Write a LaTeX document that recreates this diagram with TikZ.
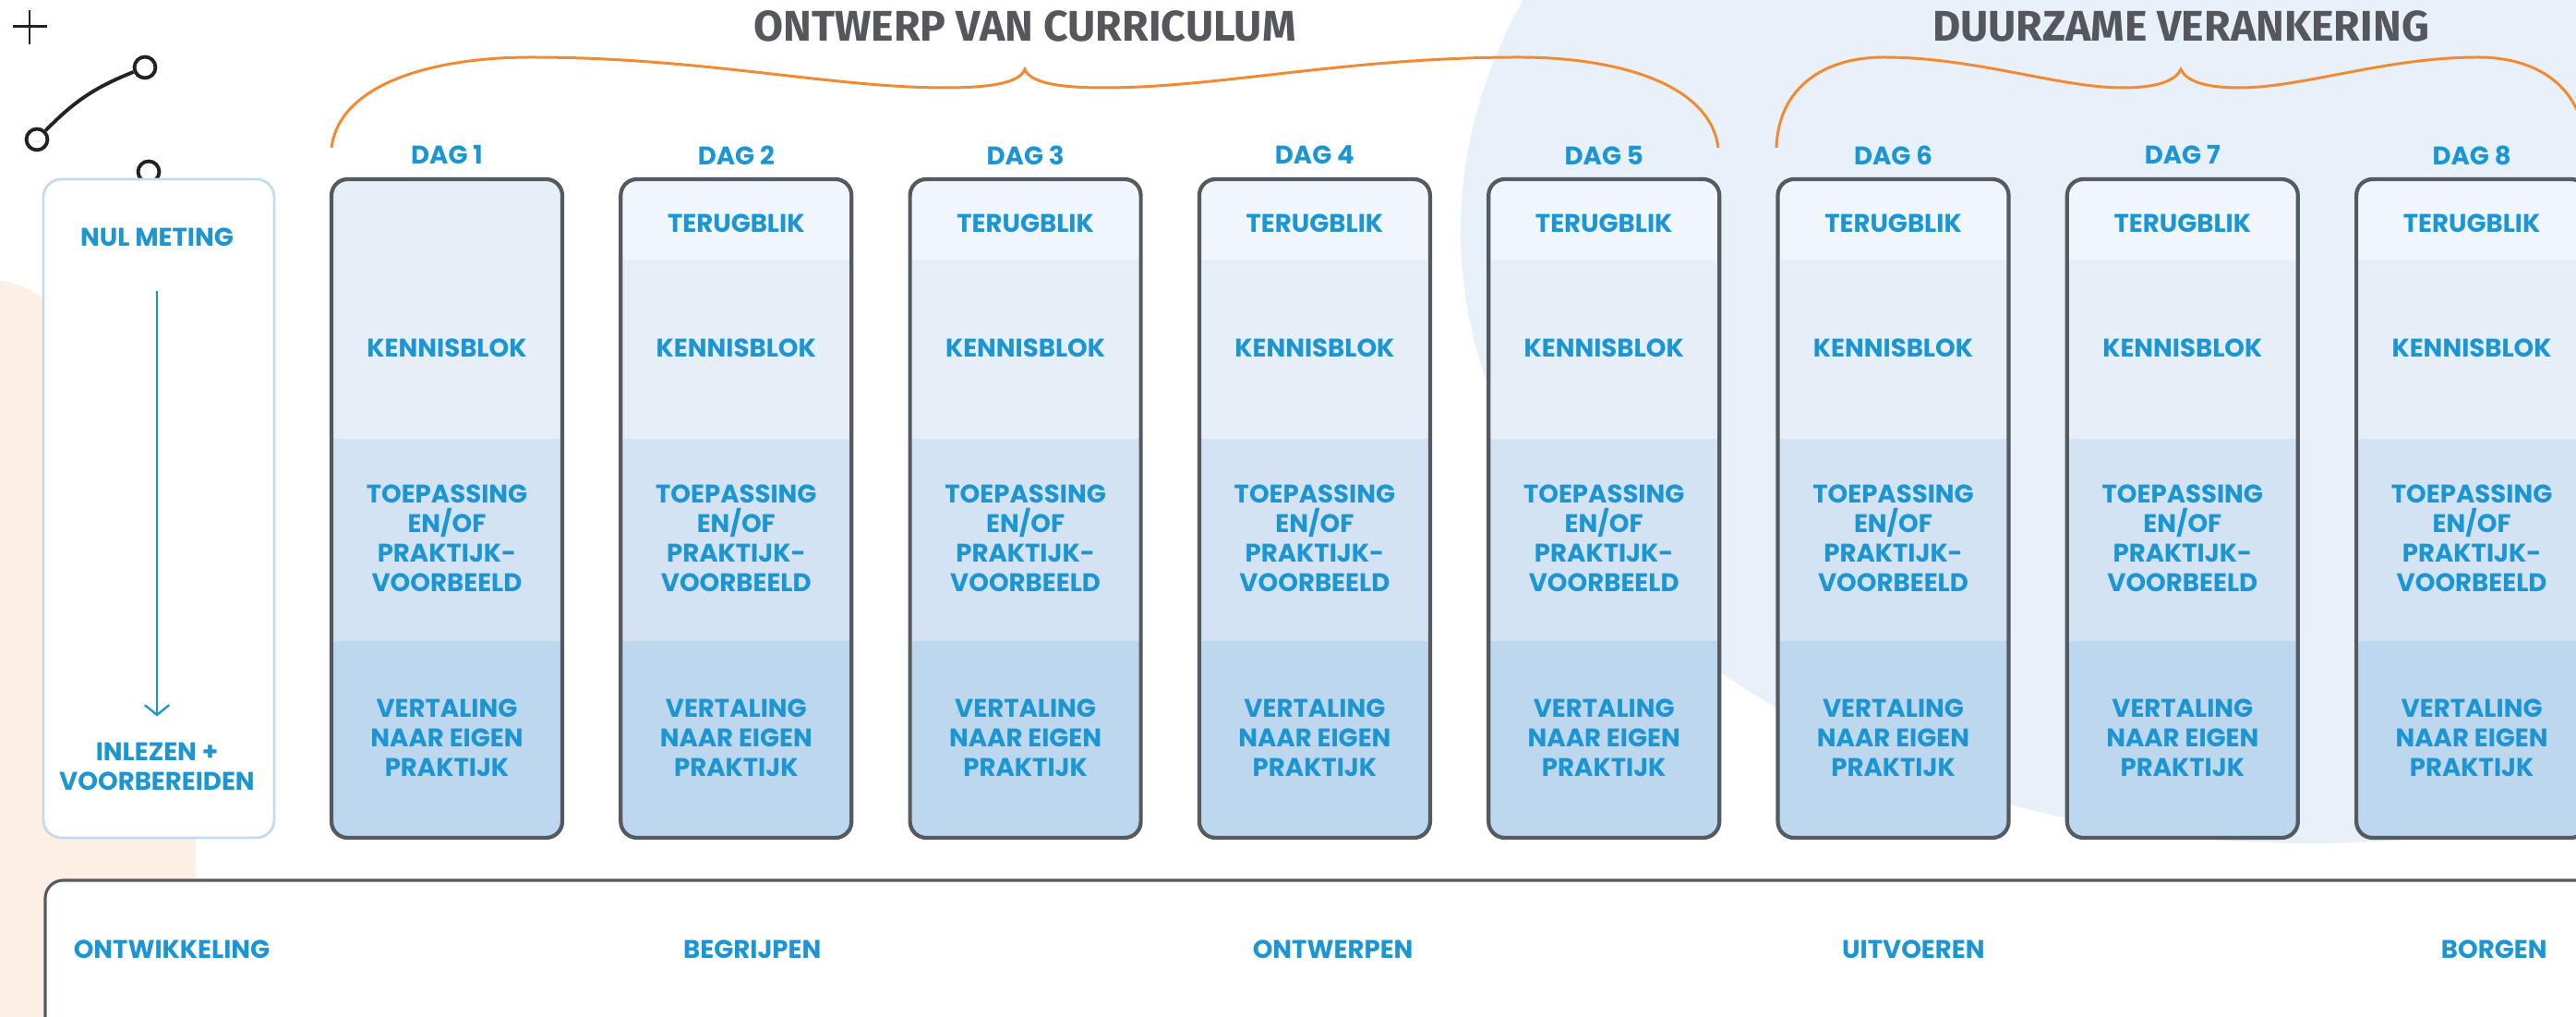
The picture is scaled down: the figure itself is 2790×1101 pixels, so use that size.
\documentclass[tikz,border=0pt]{standalone}
\usepackage{fontspec}
\newfontfamily\lblfont{Poppins}
\newfontfamily\headfont{Fira Sans}
\usetikzlibrary{arrows.meta}
\definecolor{lblblue}{HTML}{1B96D3}
\definecolor{headgray}{HTML}{55575C}
\definecolor{framegray}{HTML}{555960}
\definecolor{terugfill}{HTML}{F1F6FC}
\definecolor{kennisfill}{HTML}{E6EEF8}
\definecolor{toepfill}{HTML}{D3E3F4}
\definecolor{vertfill}{HTML}{BDD7EE}
\definecolor{nulframe}{HTML}{C3DBF0}
\definecolor{braceorange}{HTML}{F18A32}
\definecolor{bgblue}{HTML}{E8F0F9}
\definecolor{bgpeach}{HTML}{FDEFE4}
\definecolor{ink}{HTML}{222222}
\tikzset{
  lbl/.style={text=lblblue, font=\lblfont\bfseries\fontsize{7.85}{9.1}\selectfont, align=center, inner sep=0pt},
  headline/.style={text=headgray, font=\headfont\bfseries\fontsize{13.2}{15}\selectfont, inner sep=0pt},
  brace/.style={draw=braceorange, line width=0.85pt},
  daybox/.style={draw=framegray, line width=1.2pt, rounded corners=5pt},
  ring/.style={circle, draw=ink, line width=1.1pt, minimum size=6.5pt, inner sep=0pt},
}

\begin{document}
\begin{tikzpicture}[x=0.01cm, y=-0.01cm]
\clip (0,0) rectangle (2790,1101);
% background
\fill[bgpeach] (-9,940) ellipse [x radius=221, y radius=637];
\fill[bgblue] (2500,250) ellipse [x radius=918, y radius=663];
% sketch top left
\draw[ink, line width=0.85pt] (14,29) -- (51,29) (32,11) -- (32,48);
\node[ring] (ringa) at (40,151) {};
\node[ring] (ringb) at (157,73) {};
\node[ring] (ringc) at (161,186) {};
\draw[ink, line width=1.1pt] (ringa) to[bend left=12] (ringb);
% titles
\node[headline] (ontwerp) at (1110,28) {ONTWERP VAN CURRICULUM};
\node[headline] (duurzaam) at (2362,28) {DUURZAME VERANKERING};
% braces
\draw[brace] (359,160) .. controls (368,90) and (470,62) .. (575,62)
  .. controls (760,62) and (900,95) .. (1024,95)
  .. controls (1080,95) and (1105,88) .. (1110,75)
  .. controls (1115,88) and (1140,95) .. (1196,95)
  .. controls (1320,95) and (1460,62) .. (1645,62)
  .. controls (1750,62) and (1852,90) .. (1861,160);
\draw[brace] (1924,160) .. controls (1926,95) and (1975,62) .. (2040,62)
  .. controls (2140,62) and (2230,95) .. (2299,95)
  .. controls (2340,95) and (2357,86) .. (2362,75)
  .. controls (2367,86) and (2384,95) .. (2425,95)
  .. controls (2494,95) and (2584,62) .. (2684,62)
  .. controls (2749,62) and (2798,95) .. (2800,160);
% nul meting
\draw[draw=nulframe, fill=white, line width=0.8pt, rounded corners=5.5pt] (47,194) rectangle (297,907);
\node[lbl] (nul) at (170,257) {NUL METING};
\node[lbl] (inlezen) at (170,830) {INLEZEN +\\VOORBEREIDEN};
\draw[lblblue, line width=0.65pt, -{Straight Barb[length=3pt,width=7.5pt]}, shorten <=13.5pt, shorten >=8pt] (nul) -- (inlezen);
% days
\foreach \d [evaluate=\d as \x using {359+313.3*(\d-1)}] in {1,...,8} {
  \begin{scope}
    \clip[rounded corners=5pt] (\x,194) rectangle ++(250,713);
    \fill[terugfill] (\x,194) rectangle ++(250,87);
    \ifnum\d=1
      \fill[kennisfill] (\x,194) rectangle ++(250,281);
    \else
      \fill[kennisfill] (\x,281) rectangle ++(250,194);
    \fi
    \fill[toepfill] (\x,475) rectangle ++(250,219);
    \fill[vertfill] (\x,694) rectangle ++(250,213);
  \end{scope}
  \draw[daybox] (\x,194) rectangle ++(250,713);
  \node[lbl] (dag\d) at (\x+125,168) {DAG \d};
  \ifnum\d>1
    \node[lbl] (terug\d) at (\x+125,242) {TERUGBLIK};
  \fi
  \node[lbl] (kennis\d) at (\x+125,377) {KENNISBLOK};
  \node[lbl] (toep\d) at (\x+125,583) {TOEPASSING\\EN/OF\\PRAKTIJK-\\VOORBEELD};
  \node[lbl] (vert\d) at (\x+125,799) {VERTALING\\NAAR EIGEN\\PRAKTIJK};
}
% fasen
\draw[draw=framegray, fill=white, line width=0.9pt, rounded corners=5.5pt] (49,953) rectangle (2840,1160);
\foreach \fase [count=\k] in {ONTWIKKELING,BEGRIJPEN,ONTWERPEN,UITVOEREN,BORGEN}
  \node[lbl] (fase\k) at ({186+628.8*(\k-1)},1028) {\fase};
\end{tikzpicture}
\end{document}
